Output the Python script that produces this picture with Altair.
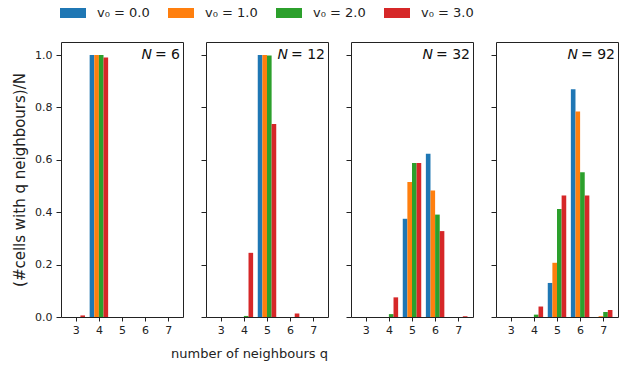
import altair as alt
import pandas as pd

q_values = [3, 4, 5, 6, 7]
v0_labels = ["v₀ = 0.0", "v₀ = 1.0", "v₀ = 2.0", "v₀ = 3.0"]
colors = ["#1f77b4", "#ff7f0e", "#2ca02c", "#d62728"]
N_values = [6, 12, 32, 92]

# fraction of cells with q neighbours, per v0, for q = 3..7
N6_v0 = [
    [0.0, 1.000, 0.0, 0.0, 0.0],
    [0.0, 1.000, 0.0, 0.0, 0.0],
    [0.0, 1.000, 0.0, 0.0, 0.0],
    [0.006, 0.991, 0.0, 0.0, 0.0],
]
N12_v0 = [
    [0.0, 0.0, 1.000, 0.0, 0.0],
    [0.0, 0.0, 1.000, 0.0, 0.0],
    [0.0, 0.004, 0.998, 0.0, 0.0],
    [0.0, 0.245, 0.737, 0.013, 0.0],
]
N32_v0 = [
    [0.0, 0.0, 0.375, 0.623, 0.0],
    [0.0, 0.0, 0.515, 0.483, 0.0],
    [0.0, 0.011, 0.588, 0.391, 0.0],
    [0.0, 0.075, 0.588, 0.328, 0.003],
]
N92_v0 = [
    [0.0, 0.0, 0.130, 0.870, 0.0],
    [0.0, 0.0, 0.207, 0.785, 0.003],
    [0.0, 0.009, 0.412, 0.553, 0.019],
    [0.0, 0.040, 0.464, 0.464, 0.027],
]
all_data = [N6_v0, N12_v0, N32_v0, N92_v0]

W, H = 122, 275
FONT = "DejaVu Sans"

panels = []
for p, (N, table) in enumerate(zip(N_values, all_data)):
    rows = []
    for si, (lab, vals) in enumerate(zip(v0_labels, table)):
        for q, v in zip(q_values, vals):
            if v > 0:
                rows.append({"q": q, "series": lab, "idx": si, "frac": v})
    df = pd.DataFrame(rows)
    xaxis = alt.Axis(values=q_values, format="d", title=None, grid=False, domain=False,
                     tickSize=4, labelPadding=3)
    if p == 1:
        xaxis = alt.Axis(values=q_values, format="d", title="number of neighbours q",
                         grid=False, domain=False, tickSize=4, labelPadding=3,
                         titleX=43, titleY=40, titleBaseline="alphabetic", titleAlign="center",
                         titleAnchor="start", titleFontSize=13)
    yaxis = alt.Axis(values=[0, 0.2, 0.4, 0.6, 0.8, 1.0], format=".1f", grid=False,
                     domain=False, tickSize=5, labels=(p == 0), labelPadding=4,
                     title="(#cells with q neighbours)/N" if p == 0 else None,
                     titlePadding=7, titleFontSize=15)
    bars = alt.Chart(df).transform_calculate(
        x0="datum.q - 0.4 + 0.2 * datum.idx",
        x1="datum.q - 0.2 + 0.2 * datum.idx",
    ).mark_rect().encode(
        x=alt.X("x0:Q", scale=alt.Scale(domain=[2.36, 7.64], nice=False, zero=False), axis=xaxis),
        x2="x1:Q",
        y=alt.Y("frac:Q", scale=alt.Scale(domain=[0, 1.05], nice=False), axis=yaxis),
        y2=alt.datum(0),
        color=alt.Color("series:N", scale=alt.Scale(domain=v0_labels, range=colors),
                        legend=alt.Legend(title=None, orient="none", direction="horizontal",
                                          legendX=-1, legendY=-42, padding=0,
                                          symbolType="M-1,-0.385H1V0.385H-1Z",
                                          symbolSize=676, symbolStrokeWidth=0,
                                          labelOffset=11, columnPadding=18,
                                          labelFontSize=13, labelFont=FONT,
                                          labelColor="#222")),
    )
    rest = alt.Chart(pd.DataFrame({"t": ["= %d" % N]})).mark_text(
        align="right", baseline="middle", fontSize=14, font=FONT, color="#111"
    ).encode(x=alt.value(W - 3), y=alt.value(13), text="t:N")
    rest_w = 11.7 + 4.5 + 8.9 * len(str(N))
    nlab = alt.Chart(pd.DataFrame({"t": ["N"]})).mark_text(
        align="right", baseline="middle", fontSize=14, font=FONT, fontStyle="italic",
        color="#111", dx=-(rest_w + 3)
    ).encode(x=alt.value(W - 3), y=alt.value(13), text="t:N")
    panels.append(alt.layer(bars, rest, nlab).properties(width=W, height=H))

chart = alt.hconcat(*panels, spacing=23, bounds="flush").configure_view(
    stroke="#222", strokeWidth=1
).configure_axis(
    labelFont=FONT, titleFont=FONT, labelFontSize=11,
    labelColor="#222", titleColor="#222", tickColor="#222", titleFontWeight="normal"
).properties(padding={"left": 12, "top": 0, "right": 10, "bottom": 5})

chart.save("out.html", embed_options={"renderer": "svg", "actions": False})
